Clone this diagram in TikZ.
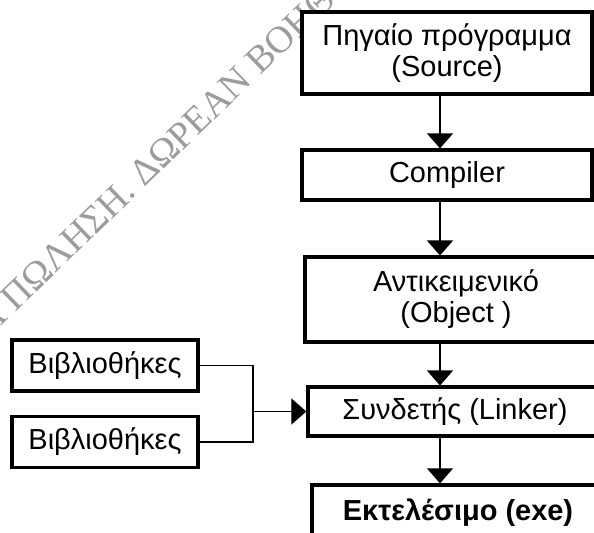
\documentclass[tikz,border=0pt]{standalone}
\usepackage{fontspec}
\setmainfont{Liberation Sans}
\newfontfamily\markfont{Liberation Serif}
\usepackage{xcolor}
\usetikzlibrary{arrows.meta}
\definecolor{BoxStroke}{HTML}{000000}
\definecolor{WireBlack}{HTML}{000000}
\definecolor{MarkGray} {HTML}{9C9C9C}
\tikzset{
  block/.style={
    draw=BoxStroke, fill=white, line width=2.3pt,
    align=center, inner sep=2pt,
    font=\fontsize{20.6}{22}\selectfont,
  },
  wideblock/.style={block, minimum width=7.25cm},
  libblock/.style ={block, minimum width=4.65cm, minimum height=1.27cm},
  wire/.style={color=WireBlack, line width=0.9pt},
  sig/.style={
    wire, -{Triangle[length=0.375cm,width=0.65cm]},
  },
  watermark/.style={
    font=\markfont\fontsize{27}{27}\selectfont,
    text=MarkGray, rotate=44, inner sep=0pt,
  },
}

\begin{document}
\begin{tikzpicture}[x=0.025cm, y=-0.025cm]

% ── Frame: picture is cut at the page edge ───────────────────────────────
\useasboundingbox (0,0) rectangle (594,533);
\clip (0,0) rectangle (594,533);

% ── Watermark ────────────────────────────────────────────────────────────
\node[watermark, anchor=base west] (wmark) at (-11,338)
  {Α ΠΩΛΗΣΗ. ΔΩΡΕΑΝ ΒΟΗΘ};

% ── Nodes ────────────────────────────────────────────────────────────────
\node[wideblock, minimum height=2.05cm] (src) at (447, 53)
  {Πηγαίο πρόγραμμα\\(Source)};
\node[wideblock, minimum height=1.25cm] (comp) at (447,175) {Compiler};
\node[block, minimum width=7.55cm, minimum height=2.12cm] (obj) at (456,299.5)
  {Αντικειμενικό\\(Object )};
\node[block, minimum width=7.35cm, minimum height=1.22cm] (link) at (455,411.5)
  {Συνδετής (Linker)};
\node[block, minimum width=7.3cm, minimum height=1.4cm] (exe) at (458,513)
  {\textbf{Εκτελέσιμο (exe)}};

\node[libblock] (lib1) at (105,365.5) {Βιβλιοθήκες};
\node[libblock] (lib2) at (105,442)   {Βιβλιοθήκες};

% ── Signals ──────────────────────────────────────────────────────────────
% main chain runs a little left of the box centres
\coordinate (spine) at (440,0);
\draw[sig] (src.south -| spine)  -- (comp.north -| spine);
\draw[sig] (comp.south -| spine) -- (obj.north -| spine);
\draw[sig] (obj.south -| spine)  -- (link.north -| spine);
\draw[sig] (link.south -| spine) -- (exe.north -| spine);

% both libraries merge into the linker
\coordinate (merge) at (253,411.5);
\draw[wire] (lib1.east) -| (merge);
\draw[wire] (lib2.east) -| (merge);
\draw[sig] (merge) -- (link.west);

\end{tikzpicture}
\end{document}
